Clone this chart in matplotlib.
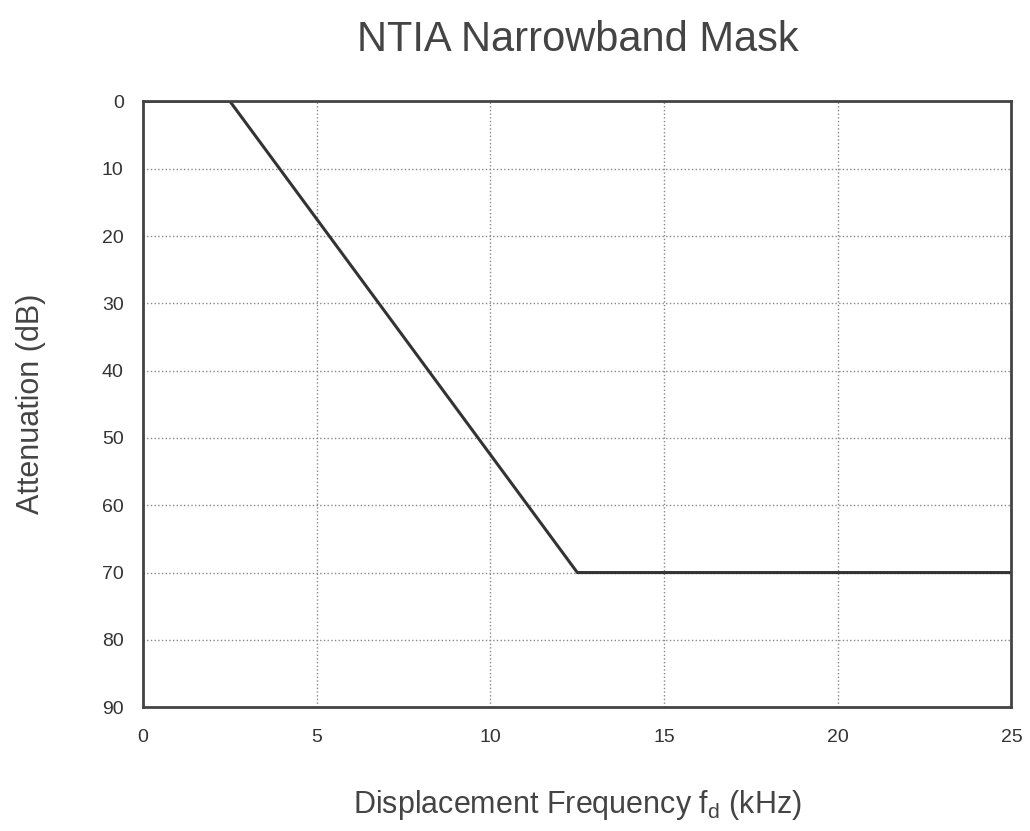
import numpy as np
import matplotlib.pyplot as plt

# mask breakpoints
freq_khz = [0, 2.5, 12.5, 25]
atten_db = [0, 0, 70, 70]

x_ticks = [0, 5, 10, 15, 20, 25]
y_ticks = [0, 10, 20, 30, 40, 50, 60, 70, 80, 90]

plt.rcParams['font.family'] = ['Liberation Sans', 'DejaVu Sans']

fig = plt.figure(figsize=(10.3, 8.31), dpi=100)
ax = fig.add_axes([0.139, 0.149, 0.843, 0.729])

ax.plot(freq_khz, atten_db, color='#333333', linewidth=2.2)

ax.set_xlim(0, 25)
ax.set_ylim(90, 0)
ax.set_xticks(x_ticks)
ax.set_yticks(y_ticks)
ax.tick_params(length=0, labelsize=14, colors='#333333')
ax.tick_params(axis='x', pad=16)
ax.tick_params(axis='y', pad=14)
ax.grid(True, linestyle=':', color='#888888', linewidth=1)

for s in ax.spines.values():
    s.set_linewidth(2)
    s.set_color('#444444')

ax.set_title('NTIA Narrowband Mask', fontsize=30, color='#444444', pad=36)
ax.set_xlabel('Displacement Frequency $\\mathregular{f_d}$ (kHz)', fontsize=22,
              color='#444444', labelpad=30)
ax.set_ylabel('Attenuation (dB)', fontsize=22, color='#444444', labelpad=40)

fig.savefig('out.png', dpi=100)
